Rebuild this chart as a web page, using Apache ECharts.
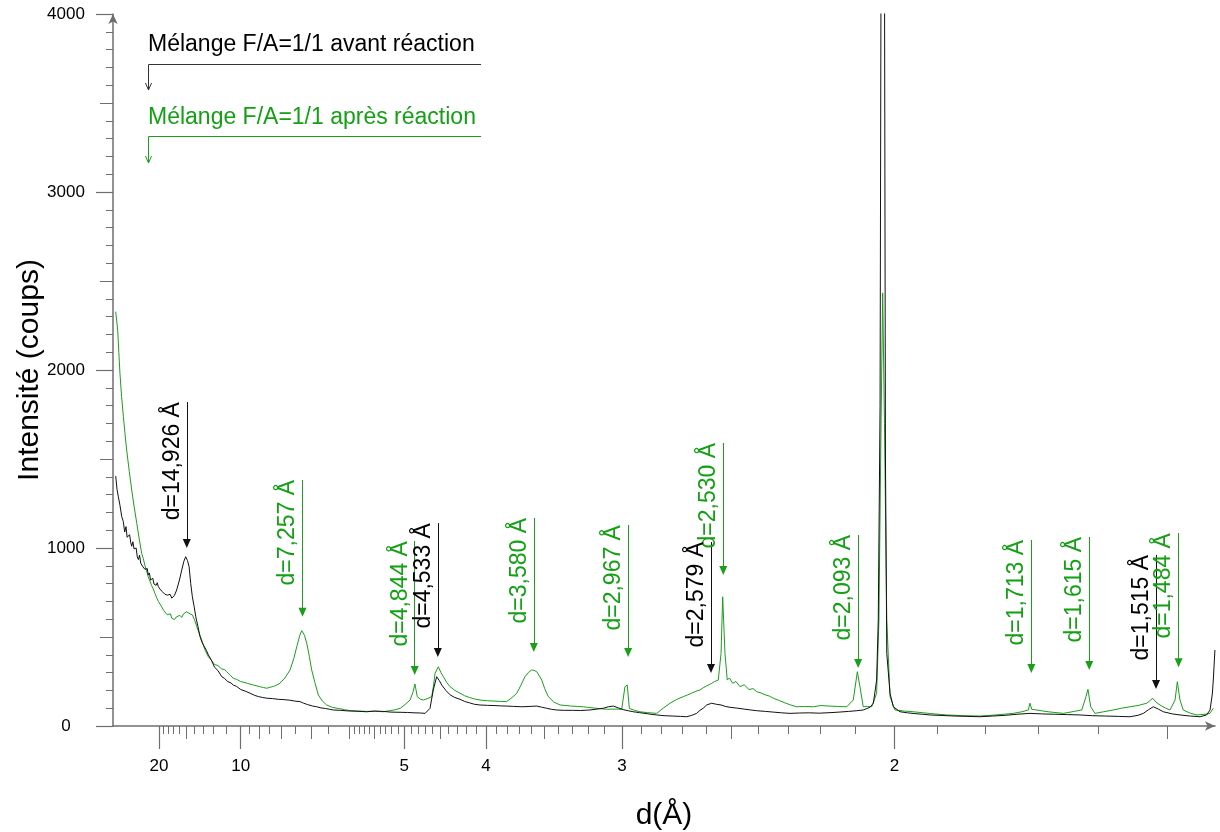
<!DOCTYPE html>
<html><head><meta charset="utf-8">
<script src="https://cdn.jsdelivr.net/npm/echarts@6/dist/echarts.min.js"></script>
<style>html,body{margin:0;padding:0;background:#fff}#c{width:1220px;height:832px}</style>
</head><body><div id="c"></div>
<script>
const FONT = "'Liberation Sans', Arial, Helvetica, sans-serif";
const BLACK = '#111111';
const GREEN = '#1a9f1a';
const GREEN_TXT = '#14a014';
const AXIS = '#6e6e6e';

// x axis is linear in 1/d (Å^-1); labels show d (Å)
const qMin = 0.02184, qMax = 0.69614;
const yMin = 0, yMax = 4000;
const xMajorD = [20, 10, 5, 4, 3, 2];
const xMediumD = [15, 9, 8, 7, 6, 5.5, 4.5, 3.5, 2.5, 1.5];
const xMinorD = [19, 18, 17, 16, 14, 13, 12, 11, 9.5, 8.5, 7.5, 6.5,
  5.9, 5.8, 5.7, 5.6, 5.4, 5.3, 5.2, 5.1, 4.9, 4.8, 4.7, 4.6, 4.4, 4.3, 4.2, 4.1,
  3.9, 3.8, 3.7, 3.6, 3.4, 3.3, 3.2, 3.1, 2.9, 2.8, 2.7, 2.6, 2.4, 2.3, 2.2, 2.1,
  1.9, 1.8, 1.7, 1.6];

const seriesNames = ['Mélange F/A=1/1 avant réaction', 'Mélange F/A=1/1 après réaction'];

// "avant réaction" (black): [1/d, counts]
const avant = [[0.0235,1404],[0.0243,1330],[0.0251,1288],[0.0261,1240],[0.0272,1176],[0.0281,1150],[0.0290,1090],[0.0298,1120],[0.0305,1060],[0.0312,1054],[0.0320,1075],[0.0327,1030],[0.0333,1010],[0.0340,1035],[0.0347,995],[0.0353,989],[0.0360,1000],[0.0367,950],[0.0374,935],[0.0381,960],[0.0388,915],[0.0394,923],[0.0401,895],[0.0408,905],[0.0414,880],[0.0421,870],[0.0428,885],[0.0434,848],[0.0441,860],[0.0448,820],[0.0455,815],[0.0462,830],[0.0469,798],[0.0475,800],[0.0482,790],[0.0489,805],[0.0496,783],[0.0505,770],[0.0512,780],[0.0520,755],[0.0528,760],[0.0536,740],[0.0545,745],[0.0552,735],[0.0560,730],[0.0568,740],[0.0578,718],[0.0586,725],[0.0595,735],[0.0608,764],[0.0625,820],[0.0639,876],[0.0652,925],[0.0663,951],[0.0674,930],[0.0684,895],[0.0694,800],[0.0704,726],[0.0715,670],[0.0725,614],[0.0738,560],[0.0751,502],[0.0763,470],[0.0775,450],[0.0790,425],[0.0802,399],[0.0820,370],[0.0840,330],[0.0860,312],[0.0884,277],[0.0900,268],[0.0920,250],[0.0940,242],[0.0955,230],[0.0975,222],[0.1000,205],[0.1030,195],[0.1057,184],[0.1085,172],[0.1110,165],[0.1135,160],[0.1159,156],[0.1195,154],[0.1230,150],[0.1265,148],[0.1300,145],[0.1330,140],[0.1363,137],[0.1385,128],[0.1410,120],[0.1440,112],[0.1465,108],[0.1490,102],[0.1520,98],[0.1545,94],[0.1566,90],[0.1610,88],[0.1650,85],[0.1710,83],[0.1771,80],[0.1820,84],[0.1870,82],[0.1920,78],[0.1975,77],[0.2020,76],[0.2060,74],[0.2100,73],[0.2128,71],[0.2158,99],[0.2178,202],[0.2199,277],[0.2215,255],[0.2230,230],[0.2255,200],[0.2281,175],[0.2310,160],[0.2342,150],[0.2370,138],[0.2400,130],[0.2430,122],[0.2464,118],[0.2510,116],[0.2550,115],[0.2590,113],[0.2627,112],[0.2670,110],[0.2720,108],[0.2770,110],[0.2811,112],[0.2840,106],[0.2870,100],[0.2900,94],[0.2933,90],[0.2980,88],[0.3030,88],[0.3080,87],[0.3137,90],[0.3180,95],[0.3220,100],[0.3250,108],[0.3280,112],[0.3310,102],[0.3340,92],[0.3370,86],[0.3402,80],[0.3440,75],[0.3480,70],[0.3510,66],[0.3545,62],[0.3590,58],[0.3640,56],[0.3690,54],[0.3729,52],[0.3760,60],[0.3790,71],[0.3810,88],[0.3830,100],[0.3851,118],[0.3882,128],[0.3910,122],[0.3940,118],[0.3965,110],[0.3994,105],[0.4040,100],[0.4080,95],[0.4120,90],[0.4157,86],[0.4210,82],[0.4260,78],[0.4310,74],[0.4361,71],[0.4420,73],[0.4480,74],[0.4540,72],[0.4606,75],[0.4660,78],[0.4720,82],[0.4770,86],[0.4809,90],[0.4850,105],[0.4871,128],[0.4891,258],[0.4901,596],[0.4912,1800],[0.4918,4300],[0.4939,4300],[0.4945,1500],[0.4953,408],[0.4973,184],[0.4993,108],[0.5034,80],[0.5080,74],[0.5120,70],[0.5170,66],[0.5218,62],[0.5290,59],[0.5370,56],[0.5450,54],[0.5523,52],[0.5600,56],[0.5680,60],[0.5750,66],[0.5829,71],[0.5900,68],[0.5980,66],[0.6060,64],[0.6135,62],[0.6210,58],[0.6290,56],[0.6370,54],[0.6441,52],[0.6490,60],[0.6523,71],[0.6555,92],[0.6584,108],[0.6615,95],[0.6645,80],[0.6700,68],[0.6747,62],[0.6810,56],[0.6870,52],[0.6910,62],[0.6931,90],[0.6945,180],[0.6951,258],[0.6961,427]];

// "après réaction" (green): [1/d, counts]
const apres = [[0.0235,2328],[0.0247,2225],[0.0254,2100],[0.0261,1981],[0.0271,1850],[0.0282,1738],[0.0292,1640],[0.0302,1551],[0.0318,1430],[0.0333,1326],[0.0348,1230],[0.0364,1139],[0.0379,1050],[0.0394,970],[0.0404,940],[0.0414,900],[0.0424,870],[0.0434,839],[0.0444,815],[0.0454,790],[0.0465,770],[0.0475,745],[0.0486,720],[0.0496,700],[0.0506,690],[0.0516,670],[0.0528,650],[0.0540,640],[0.0550,625],[0.0560,618],[0.0570,630],[0.0578,605],[0.0587,615],[0.0595,598],[0.0605,612],[0.0615,608],[0.0627,622],[0.0639,610],[0.0650,630],[0.0660,625],[0.0669,642],[0.0680,635],[0.0690,630],[0.0704,624],[0.0718,595],[0.0731,558],[0.0746,520],[0.0761,483],[0.0780,430],[0.0802,389],[0.0820,370],[0.0840,345],[0.0860,340],[0.0884,320],[0.0900,318],[0.0914,305],[0.0935,285],[0.0955,268],[0.0975,262],[0.1000,250],[0.1040,240],[0.1077,230],[0.1100,225],[0.1120,220],[0.1140,216],[0.1159,212],[0.1180,218],[0.1200,222],[0.1220,230],[0.1240,240],[0.1270,270],[0.1302,315],[0.1325,380],[0.1343,446],[0.1360,505],[0.1373,536],[0.1390,510],[0.1404,465],[0.1420,390],[0.1434,315],[0.1455,240],[0.1475,174],[0.1500,140],[0.1526,118],[0.1560,105],[0.1600,98],[0.1635,92],[0.1669,86],[0.1720,84],[0.1770,82],[0.1820,83],[0.1872,80],[0.1910,86],[0.1940,90],[0.1975,99],[0.2005,120],[0.2036,146],[0.2054,190],[0.2066,236],[0.2080,165],[0.2100,150],[0.2117,146],[0.2145,155],[0.2169,165],[0.2180,230],[0.2189,296],[0.2209,333],[0.2225,300],[0.2240,277],[0.2260,245],[0.2281,221],[0.2310,200],[0.2342,184],[0.2370,170],[0.2400,160],[0.2430,152],[0.2464,146],[0.2510,142],[0.2550,140],[0.2590,138],[0.2627,137],[0.2660,160],[0.2689,184],[0.2715,230],[0.2739,277],[0.2760,300],[0.2780,315],[0.2795,312],[0.2811,305],[0.2825,285],[0.2842,258],[0.2860,210],[0.2882,165],[0.2915,135],[0.2954,118],[0.2990,115],[0.3020,112],[0.3060,110],[0.3096,108],[0.3130,104],[0.3170,100],[0.3205,97],[0.3239,94],[0.3290,95],[0.3331,94],[0.3351,221],[0.3365,230],[0.3378,99],[0.3410,88],[0.3443,80],[0.3490,75],[0.3545,71],[0.3585,100],[0.3627,128],[0.3665,148],[0.3708,165],[0.3735,175],[0.3760,185],[0.3785,195],[0.3810,202],[0.3830,215],[0.3850,225],[0.3866,232],[0.3882,240],[0.3900,250],[0.3922,258],[0.3939,408],[0.3949,726],[0.3963,408],[0.3977,258],[0.3990,270],[0.4010,240],[0.4030,250],[0.4055,221],[0.4080,232],[0.4110,205],[0.4135,210],[0.4157,193],[0.4185,185],[0.4210,175],[0.4235,168],[0.4259,156],[0.4290,145],[0.4330,130],[0.4365,118],[0.4402,108],[0.4450,110],[0.4504,108],[0.4550,115],[0.4600,112],[0.4650,110],[0.4708,108],[0.4748,146],[0.4773,305],[0.4789,221],[0.4809,108],[0.4835,110],[0.4861,108],[0.4891,184],[0.4905,596],[0.4918,1700],[0.4928,2433],[0.4939,1700],[0.4953,596],[0.4973,165],[0.5003,90],[0.5060,84],[0.5115,80],[0.5220,70],[0.5320,62],[0.5420,58],[0.5523,56],[0.5620,62],[0.5727,71],[0.5780,80],[0.5819,90],[0.5829,128],[0.5840,94],[0.5940,80],[0.6033,71],[0.6100,82],[0.6146,90],[0.6172,165],[0.6184,206],[0.6201,108],[0.6227,71],[0.6280,80],[0.6339,90],[0.6390,100],[0.6441,108],[0.6490,115],[0.6544,128],[0.6560,140],[0.6580,156],[0.6600,135],[0.6625,118],[0.6660,100],[0.6686,90],[0.6717,146],[0.6731,249],[0.6747,146],[0.6767,90],[0.6810,72],[0.6849,62],[0.6900,66],[0.6931,71],[0.6951,100]];

// annotated reflections: d (Å), top of the label line, arrow position (counts)
const peaksAvantD = [14.926, 4.533, 2.579, 1.515];
const peaksAvantTop = [1820, 1140, 1034, 961];
const peaksAvantArrow = [1025, 413, 323, 233];
const peaksApresD = [7.257, 4.844, 3.580, 2.967, 2.530, 2.093, 1.713, 1.615, 1.484];
const peaksApresTop = [1382, 1039, 1169, 1129, 1590, 1073, 1045, 1062, 1084];
const peaksApresArrow = [639, 312, 441, 413, 873, 351, 323, 340, 356];

const fmtD = d => 'd=' + d.toFixed(3).replace('.', ',') + ' Å';
const annot = (ds, tops, arrows) => ds.map((d, i) => [
  { name: fmtD(d), coord: [1 / d, arrows[i]] },
  { coord: [1 / d, tops[i]] }
]);
const markLineOf = (color, txtColor, data) => ({
  silent: true, animation: false,
  symbol: ['triangle', 'none'], symbolSize: [8, 9],
  lineStyle: { type: 'solid', width: 1, color: color, opacity: 1 },
  label: { show: true, position: 'insideEndTop', distance: [0, 3], formatter: '{b}',
    color: txtColor, fontSize: 23, fontFamily: FONT },
  emphasis: { disabled: true },
  data: data
});

const xBase = {
  type: 'value', min: qMin, max: qMax, position: 'bottom', offset: 0,
  splitLine: { show: false }, axisLabel: { show: false }, axisLine: { show: false }
};
const chart = echarts.init(document.getElementById('c'), null, { renderer: 'canvas' });
chart.setOption({
  animation: false,
  backgroundColor: '#ffffff',
  grid: { left: 113, right: 5, top: 14, bottom: 106, containLabel: false, outerBoundsMode: 'none' },
  xAxis: [
    Object.assign({}, xBase, {
      name: 'd(Å)', nameLocation: 'middle', nameGap: 75, nameMoveOverlap: false,
      nameTextStyle: { fontSize: 30, fontFamily: FONT, color: '#000' },
      axisLine: { show: true, lineStyle: { color: AXIS, width: 1.5 }, symbol: ['none', 'arrow'], symbolSize: [7, 10] },
      axisTick: { show: true, length: 23, lineStyle: { color: AXIS, width: 1.2 }, customValues: xMajorD.map(d => 1 / d) },
      axisLabel: { show: true, margin: 32, fontSize: 17, fontFamily: FONT, color: '#000',
        customValues: xMajorD.map(d => 1 / d), formatter: v => String(Math.round(1 / v)) }
    }),
    Object.assign({}, xBase, {
      axisTick: { show: true, length: 13, lineStyle: { color: AXIS, width: 1 }, customValues: xMediumD.map(d => 1 / d) }
    }),
    Object.assign({}, xBase, {
      axisTick: { show: true, length: 8, lineStyle: { color: AXIS, width: 1 }, customValues: xMinorD.map(d => 1 / d) }
    })
  ],
  yAxis: [
    {
      type: 'value', min: yMin, max: yMax, interval: 1000, position: 'left',
      name: 'Intensité (coups)', nameLocation: 'middle', nameGap: 68, nameMoveOverlap: false,
      nameTextStyle: { fontSize: 30, fontFamily: FONT, color: '#000' },
      splitLine: { show: false },
      axisLine: { show: true, lineStyle: { color: AXIS, width: 1.5 }, symbol: ['none', 'arrow'], symbolSize: [7, 10] },
      axisTick: { show: true, length: 17, lineStyle: { color: AXIS, width: 1.2 } },
      minorTick: { show: true, splitNumber: 10, length: 7, lineStyle: { color: AXIS, width: 1 } },
      axisLabel: { show: true, margin: 47, align: 'center', fontSize: 17, fontFamily: FONT, color: '#000',
        formatter: v => String(v) }
    },
    {
      type: 'value', min: yMin, max: yMax, interval: 500, position: 'left', offset: 0,
      splitLine: { show: false }, axisLine: { show: false }, axisLabel: { show: false },
      axisTick: { show: true, length: 13, lineStyle: { color: AXIS, width: 1 } }
    }
  ],
  series: [
    {
      name: seriesNames[1], type: 'line', xAxisIndex: 0, yAxisIndex: 0,
      data: apres, showSymbol: false, symbol: 'none', clip: true,
      lineStyle: { color: GREEN, width: 1 }, itemStyle: { color: GREEN },
      emphasis: { disabled: true }, z: 2,
      markLine: markLineOf(GREEN, GREEN_TXT, annot(peaksApresD, peaksApresTop, peaksApresArrow))
    },
    {
      name: seriesNames[0], type: 'line', xAxisIndex: 0, yAxisIndex: 0,
      data: avant, showSymbol: false, symbol: 'none', clip: true,
      lineStyle: { color: BLACK, width: 1 }, itemStyle: { color: BLACK },
      emphasis: { disabled: true }, z: 3,
      markLine: markLineOf(BLACK, '#000', annot(peaksAvantD, peaksAvantTop, peaksAvantArrow))
    }
  ],
  graphic: [
    { type: 'text', left: 148, top: 33, style: { text: seriesNames[0], fill: '#000', font: '23px ' + FONT } },
    { type: 'polyline', shape: { points: [[481, 64.5], [148.5, 64.5], [148.5, 90]] }, style: { stroke: '#333', lineWidth: 1, fill: null } },
    { type: 'polyline', shape: { points: [[145.5, 83], [148.5, 90], [151.5, 83]] }, style: { stroke: '#333', lineWidth: 1, fill: null } },
    { type: 'text', left: 148, top: 106, style: { text: seriesNames[1], fill: GREEN_TXT, font: '23px ' + FONT } },
    { type: 'polyline', shape: { points: [[481, 136.5], [148.5, 136.5], [148.5, 163]] }, style: { stroke: GREEN, lineWidth: 1, fill: null } },
    { type: 'polyline', shape: { points: [[145.5, 156], [148.5, 163], [151.5, 156]] }, style: { stroke: GREEN, lineWidth: 1, fill: null } }
  ]
});
</script>
</body></html>
